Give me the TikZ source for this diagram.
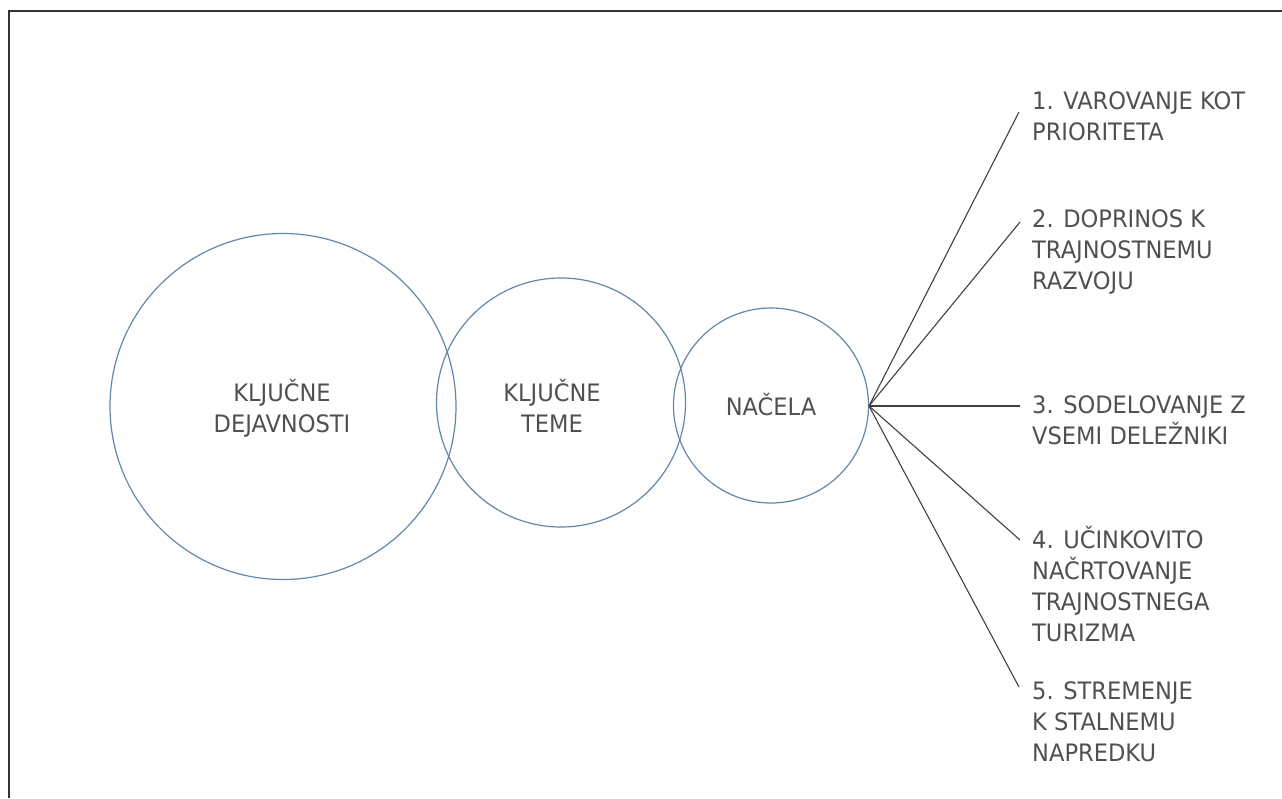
\documentclass[tikz,border=0pt]{standalone}
\usepackage{fontspec}
\setmainfont{DejaVu Sans}[FakeStretch=0.94]
\definecolor{txt}{HTML}{505050}
\definecolor{ring}{HTML}{6387AB}
\definecolor{conn}{HTML}{404040}
\begin{document}
\begin{tikzpicture}[x=1pt,y=-1pt,
  circ/.style={draw=ring,line width=1.2pt,circle,inner sep=0pt},
  lab/.style={text=txt,font=\fontsize{24}{31}\selectfont,inner sep=0pt},
  item/.style={lab,align=left,anchor=base west},
  mid/.style={lab,align=center,anchor=base},
  spoke/.style={draw=conn,line width=1.1pt}]
\useasboundingbox (0,0) rectangle (1282,798);
\draw[line width=1.6pt,black!80] (9,798) -- (9,11) -- (1282,11);
% circles
\node[circ,minimum size=346pt] (big) at (283,406.5) {};
\node[circ,minimum size=249pt] (med) at (561,402.5) {};
\node[circ,minimum size=195pt] (small) at (771,405.5) {};
% (anchor base = baseline of the last line)
\node[mid] (tbig) at (282,432) {KLJUČNE\\DEJAVNOSTI};
\node[mid] (tmed) at (552,432) {KLJUČNE\\TEME};
\node[mid] (tsmall) at (771,415) {NAČELA};
% hub and ends
\coordinate (hub) at (869,406);
\coordinate (e1) at (1019,112);
\coordinate (e2) at (1020,222);
\coordinate (e3) at (1020,406);
\coordinate (e4) at (1020,540);
\coordinate (e5) at (1019,687);
\foreach \i in {1,...,5} \draw[spoke] (hub) -- (e\i);
% items
\node[item] (i1) at (1032,140.5) {1. VAROVANJE KOT\\PRIORITETA};
\node[item] (i2) at (1032,289) {2. DOPRINOS K\\TRAJNOSTNEMU\\RAZVOJU};
\node[item] (i3) at (1032,444) {3. SODELOVANJE Z\\VSEMI DELEŽNIKI};
\node[item] (i4) at (1032,641.5) {4. UČINKOVITO\\NAČRTOVANJE\\TRAJNOSTNEGA\\TURIZMA};
\node[item] (i5) at (1032,761) {5. STREMENJE\\K STALNEMU\\NAPREDKU};
\end{tikzpicture}
\end{document}
